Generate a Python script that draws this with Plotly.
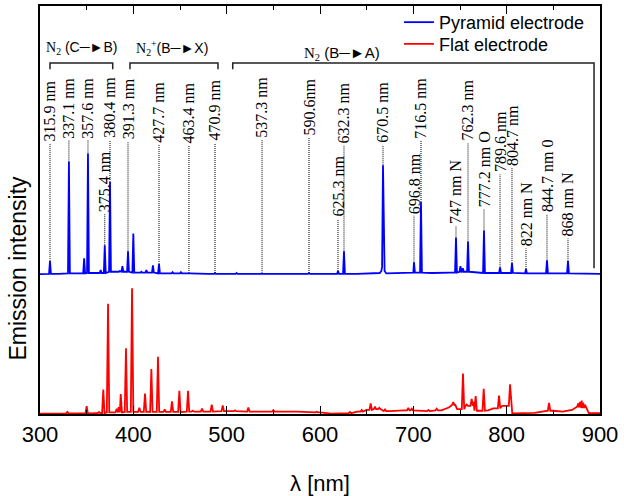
import numpy as np
import plotly.graph_objects as go

# ---------------- data (intensity in % of axis height) ----------------
blue_peak_nm = [310.7, 331.0, 347.3, 351.4, 365.0, 369.4, 375.0, 385.4, 388.3, 394.3,
                400.0, 408.6, 414.0, 421.0, 427.5, 442.0, 451.0, 459.6, 487.5, 510.6,
                537.9, 588.2, 619.3, 625.7, 667.5, 700.7, 708.2, 745.7, 750.5, 753.0,
                758.6, 775.7, 781.5, 792.9, 805.7, 820.7, 843.2, 865.7]
blue_peak_val = [3.4, 27.8, 4.1, 29.8, 1.2, 7.3, 22.8, 1.0, 2.2, 5.8,
                 10.2, 0.8, 1.2, 2.4, 2.7, 0.7, 0.7, 0.5, 0.5, 0.5,
                 0.45, 0.5, 1.0, 5.8, 26.9, 3.1, 17.9, 9.2, 2.2, 1.7,
                 8.2, 10.9, 0.6, 1.9, 2.9, 1.5, 3.6, 3.4]
blue_base_nm = [300, 320, 340, 360, 380, 410, 440, 480, 560, 640, 664, 665.8, 666.4,
                668.6, 669.2, 671, 700, 720, 740, 760, 790, 830, 870, 900]
blue_base_val = [0.2, 0.3, 0.4, 0.5, 0.8, 0.6, 0.4, 0.3, 0.3, 0.3, 0.5, 1.0, 2.0,
                 2.0, 1.0, 0.4, 0.6, 0.5, 0.6, 0.8, 0.5, 0.4, 0.4, 0.3]
blue_offset = 34.06

red_peak_nm = [329.3, 350.0, 363.2, 367.8, 372.9, 382.2, 384.3, 386.5, 392.1, 398.6,
               406.4, 412.5, 419.3, 426.4, 433.6, 441.4, 449.3, 458.6, 463.6, 473.6,
               484.0, 495.8, 509.0, 523.2, 537.5, 550.0, 574.0, 596.5, 632.1, 644.7,
               654.3, 658.9, 663.5, 669.6, 694.6, 698.3, 716.1, 725.0, 742.8, 748.2,
               753.2, 757.2, 762.5, 764.5, 766.8, 775.4, 785.7, 791.8, 796.4, 800.0,
               803.6, 845.4, 876.8, 878.5, 880.4, 882.0, 883.9]
red_peak_val = [0.5, 1.9, 0.5, 6.0, 27.0, 1.3, 1.7, 4.9, 16.1, 30.8,
                1.5, 5.0, 11.0, 14.0, 1.1, 3.1, 5.7, 5.7, 0.8, 1.3,
                2.3, 2.1, 0.9, 1.6, 0.7, 0.95, 0.7, 0.55, 0.5, 1.0,
                2.6, 1.8, 1.5, 1.1, 1.5, 1.3, 1.0, 1.3, 2.9, 1.1,
                9.9, 2.3, 3.7, 3.0, 4.4, 6.2, 1.0, 4.5, 1.1, 1.8,
                7.3, 2.7, 2.6, 3.0, 3.3, 2.8, 2.3]
red_base_nm = [300, 340, 360, 380, 400, 430, 470, 500, 530, 560, 600, 612, 625, 640,
               650, 660, 675, 690, 710, 730, 738, 745, 750, 760, 771, 780, 790, 802,
               805, 806, 830, 850, 860, 870, 875, 885, 888, 900]
red_base_val = [0.1, 0.15, 0.2, 0.4, 0.5, 0.5, 0.6, 0.7, 0.6, 0.6, 0.4, 0.1, 0.2, 0.6,
                1.0, 1.2, 0.7, 0.9, 0.7, 0.9, 1.6, 2.2, 1.2, 2.0, 0.8, 0.9, 1.4, 2.0,
                2.0, 0.15, 0.3, 0.8, 0.6, 1.0, 1.8, 1.6, 0.2, 0.2]

# peak labels: text, wavelength of marked line, height of label foot (%)
label_text = ["315.9 nm", "337.1 nm", "357.6 nm", "380.4 nm", "375.4 nm", "391.3 nm",
              "427.7 nm", "463.4 nm", "470.9 nm", "537.3 nm", "590.6nm", "625.3 nm",
              "632.3 nm", "670.5 nm", "696.8 nm", "716.5 nm", "747 nm N", "762.3 nm",
              "777.2 nm O", "789.6 nm", "804.7 nm", "822 nm N", "844.7 nm 0", "868 nm N"]
label_nm = [310.7, 331.0, 351.4, 375.0, 369.4, 394.3,
            427.5, 459.6, 487.5, 537.9, 588.2, 619.3,
            625.7, 667.5, 700.7, 708.2, 745.7, 758.6,
            775.7, 792.9, 805.7, 820.7, 843.2, 865.7]
label_foot = [66.4, 67.1, 67.1, 67.1, 49.0, 66.7,
              65.9, 65.9, 66.4, 67.1, 67.9, 47.8,
              65.9, 65.9, 48.6, 67.1, 46.1, 66.4,
              50.2, 58.7, 60.4, 40.6, 49.0, 43.0]

x_ticks = [300, 400, 500, 600, 700, 800, 900]


def build(peak_nm, peak_val, base_nm, base_val, hw):
    pts = list(zip(base_nm, base_val))
    bn = np.array(base_nm)
    for c, h in zip(peak_nm, peak_val):
        f = base_val[int(np.argmin(np.abs(bn - c)))]
        pts += [(c - hw, f), (c, max(h, f)), (c + hw, f)]
    pts.sort()
    return [p[0] for p in pts], [p[1] for p in pts]


bx, by = build(blue_peak_nm, blue_peak_val, blue_base_nm, blue_base_val, 1.0)
by = [v + blue_offset for v in by]
rx, ry = build(red_peak_nm, red_peak_val, red_base_nm, red_base_val, 1.3)

fig = go.Figure()
fig.add_trace(go.Scatter(x=bx, y=by, mode="lines", name="Pyramid electrode",
                         line=dict(color="#0000ff", width=1.8), legend="legend"))
fig.add_trace(go.Scatter(x=rx, y=ry, mode="lines", name="Flat electrode",
                         line=dict(color="#ff0000", width=1.8), legend="legend2"))

shapes = []
annotations = []
bpn = np.array(blue_peak_nm)
for t, nm, foot in zip(label_text, label_nm, label_foot):
    top = blue_offset + blue_peak_val[int(np.argmin(np.abs(bpn - nm)))]
    if foot > top:
        shapes.append(dict(type="line", xref="x", yref="y", x0=nm, x1=nm, y0=top, y1=foot,
                           line=dict(color="black", width=1, dash="1px,1px")))
    annotations.append(dict(x=nm, y=foot, xref="x", yref="y", text=t, textangle=-90,
                            showarrow=False, xanchor="center", yanchor="bottom",
                            font=dict(family="Liberation Serif", size=16, color="black")))

# brackets for band systems
br_y, br_tick = 86.0, 84.5
for x0, x1, yend in [(310.7, 377.9, br_tick), (396.4, 490.7, br_tick), (506.5, 893.6, 35.7)]:
    shapes.append(dict(type="path", xref="x", yref="y",
                       path=f"M {x0},{br_tick} L {x0},{br_y} L {x1},{br_y} L {x1},{yend}",
                       line=dict(color="#222222", width=1.5)))

serif = "font-family:Liberation Serif"
annotations += [
    dict(x=344.0, y=89.6, xref="x", yref="y", showarrow=False,
         text=f'<span style="{serif}">N<sub>2</sub></span> (C\u2500\u25BAB)',
         font=dict(family="Liberation Sans", size=14, color="black")),
    dict(x=441.0, y=89.8, xref="x", yref="y", showarrow=False,
         text=f'<span style="{serif}">N<sub>2</sub><sup>+</sup></span>(B\u2500\u25BAX)',
         font=dict(family="Liberation Sans", size=14, color="black")),
    dict(x=623.6, y=88.4, xref="x", yref="y", showarrow=False,
         text=f'<span style="{serif}">N<sub>2</sub></span> (B\u2500\u25BAA)',
         font=dict(family="Liberation Sans", size=15, color="black")),
    dict(x=-0.039, y=0.357, xref="paper", yref="paper", showarrow=False, textangle=-90,
         text="Emission intensity", xanchor="center", yanchor="middle",
         font=dict(family="Liberation Sans", size=23, color="black")),
]

leg_common = dict(xanchor="left", yanchor="top", bgcolor="rgba(0,0,0,0)",
                  font=dict(size=18, family="Liberation Sans"), itemwidth=30)
fig.update_layout(
    width=624, height=496,
    margin=dict(l=40, r=24, t=4, b=78),
    paper_bgcolor="white", plot_bgcolor="white",
    font=dict(family="Liberation Sans", color="black"),
    showlegend=True,
    legend=dict(x=0.641, y=1.005, **leg_common),
    legend2=dict(x=0.641, y=0.952, **leg_common),
    shapes=shapes,
    annotations=annotations,
)
fig.update_xaxes(range=[300, 900], tickvals=x_ticks, ticks="inside", ticklen=8, tickwidth=1.2,
                 tickcolor="black", showline=True, linecolor="black", linewidth=1.5,
                 mirror="ticks", showgrid=False, zeroline=False,
                 minor=dict(dtick=50, ticks="inside", ticklen=4, tickcolor="black"),
                 tickfont=dict(size=22, family="Liberation Sans"),
                 title=dict(text="\u03bb [nm]", font=dict(size=22, family="Liberation Sans"),
                            standoff=29))
fig.update_yaxes(range=[0, 100], showticklabels=False, ticks="", showline=True,
                 linecolor="black", linewidth=1.5, mirror=True, showgrid=False, zeroline=False)

fig.write_html("out.html")
